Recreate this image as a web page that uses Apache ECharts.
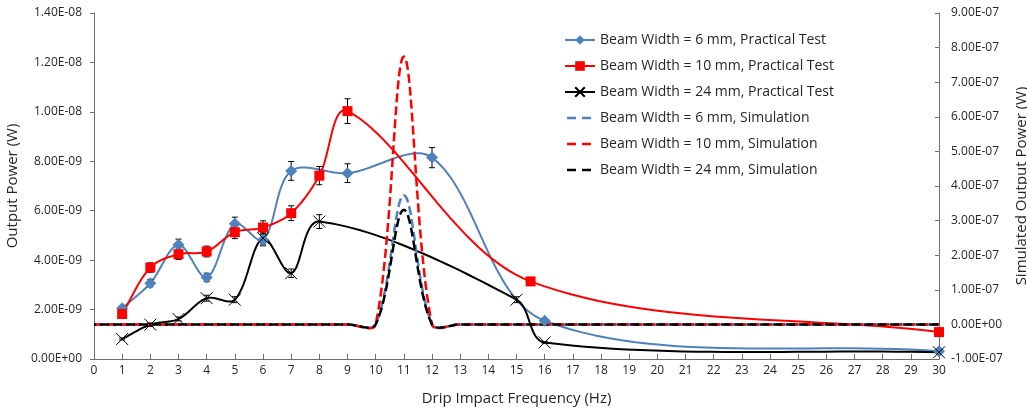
<!DOCTYPE html>
<html>
<head>
<meta charset="utf-8">
<script src="https://cdn.jsdelivr.net/npm/echarts@6/dist/echarts.min.js"></script>
<style>
html,body{margin:0;padding:0;background:#fff;}
#chart{width:1027px;height:410px;}
</style>
</head>
<body>
<div id="chart"></div>
<script>
// ---- Data (x in Hz) ----
const bw6X   = [1, 2, 3, 4, 5, 6, 7, 9, 12, 16, 30];
const bw6Y   = [2.05e-9, 3.07e-9, 4.62e-9, 3.30e-9, 5.47e-9, 4.82e-9, 7.61e-9, 7.52e-9, 8.15e-9, 1.55e-9, 0.31e-9];
const bw6Err = [0.10e-9, 0.15e-9, 0.23e-9, 0.17e-9, 0.27e-9, 0.24e-9, 0.38e-9, 0.38e-9, 0.41e-9, 0.08e-9, 0.02e-9];

const bw10X   = [1, 2, 3, 4, 5, 6, 7, 8, 9, 15.5, 30];
const bw10Y   = [1.82e-9, 3.70e-9, 4.24e-9, 4.35e-9, 5.13e-9, 5.32e-9, 5.90e-9, 7.42e-9, 10.03e-9, 3.14e-9, 1.09e-9];
const bw10Err = [0.09e-9, 0.19e-9, 0.21e-9, 0.22e-9, 0.26e-9, 0.27e-9, 0.30e-9, 0.37e-9, 0.50e-9, 0.16e-9, 0.05e-9];

const bw24X   = [1, 2, 3, 4, 5, 6, 7, 8, 15, 16, 30];
const bw24Y   = [0.81e-9, 1.39e-9, 1.62e-9, 2.46e-9, 2.40e-9, 4.89e-9, 3.47e-9, 5.56e-9, 2.40e-9, 0.67e-9, 0.27e-9];
const bw24Err = [0.04e-9, 0.07e-9, 0.08e-9, 0.12e-9, 0.12e-9, 0.24e-9, 0.17e-9, 0.28e-9, 0.12e-9, 0.03e-9, 0.01e-9];

const simX    = [0,1,2,3,4,5,6,7,8,9,10,11,12,13,14,15,16,17,18,19,20,21,22,23,24,25,26,27,28,29,30];
const sim6Y   = [0,0,0,0,0,0,0,0,0,0,0,3.73e-7,0,0,0,0,0,0,0,0,0,0,0,0,0,0,0,0,0,0,0];
const sim10Y  = [0,0,0,0,0,0,0,0,0,0,0,7.74e-7,0,0,0,0,0,0,0,0,0,0,0,0,0,0,0,0,0,0,0];
const sim24Y  = [0,0,0,0,0,0,0,0,0,0,0,3.31e-7,0,0,0,0,0,0,0,0,0,0,0,0,0,0,0,0,0,0,0];

const names = [
  'Beam Width = 6 mm, Practical Test',
  'Beam Width = 10 mm, Practical Test',
  'Beam Width = 24 mm, Practical Test',
  'Beam Width = 6 mm, Simulation',
  'Beam Width = 10 mm, Simulation',
  'Beam Width = 24 mm, Simulation'
];

const BLUE = '#4F81BD', RED = '#FF0000', BLACK = '#000000';
const FONT = 'Open Sans';
const TEXT = '#262626';
const DASH_ICON = 'path://M0,0L0,0M30,12L30,12M2,4.75H11V7.25H2ZM17,4.75H26V7.25H17Z';

function pairs(xs, ys){ return xs.map((x,i)=>[x, ys[i]]); }
function errs(xs, ys, es){ return xs.map((x,i)=>[x, ys[i], es[i]]); }
function fmt(v){
  if (Math.abs(v) < 1e-20) return '0.00E+00';
  const parts = v.toExponential(2).split('e');
  const e = parts[1];
  let d = e.slice(1);
  if (d.length < 2) d = '0' + d;
  return parts[0] + 'E' + e[0] + d;
}

// Spreadsheet-style smoothed curve through the pixel positions of the data points
function smoothPixels(pts){
  const n = pts.length;
  if (n < 2) return pts;
  const dist = (a,b)=>Math.hypot(b[0]-a[0], b[1]-a[1]);
  const out = [pts[0]];
  const N = 28;
  for (let i = 0; i < n-1; i++){
    const p0 = pts[i-1] || pts[i], p1 = pts[i], p2 = pts[i+1], p3 = pts[i+2] || pts[i+1];
    const d01 = dist(p0,p1), d12 = dist(p1,p2), d23 = dist(p2,p3);
    const f1 = (d01+d12) > 0 ? d12/(d01+d12)/3 : 0;
    const f2 = (d12+d23) > 0 ? d12/(d12+d23)/3 : 0;
    const c1 = [p1[0] + (p2[0]-p0[0])*f1, p1[1] + (p2[1]-p0[1])*f1];
    const c2 = [p2[0] - (p3[0]-p1[0])*f2, p2[1] - (p3[1]-p1[1])*f2];
    for (let s = 1; s <= N; s++){
      const t = s/N, u = 1-t;
      const a = u*u*u, b = 3*u*u*t, c = 3*u*t*t, d = t*t*t;
      out.push([a*p1[0]+b*c1[0]+c*c2[0]+d*p2[0], a*p1[1]+b*c1[1]+c*c2[1]+d*p2[1]]);
    }
  }
  return out;
}

function curveSeries(xs, ys, yAxisIndex, color, width, dash, dashOffset, z){
  const data = pairs(xs, ys);
  return {
    type: 'custom', xAxisIndex: 0, yAxisIndex: yAxisIndex, z: z, silent: true,
    data: data,
    renderItem: function(params, api){
      if (params.dataIndex !== 0) return null;
      const pts = data.map(p => api.coord(p));
      const style = {stroke: color, lineWidth: width, fill: 'none', lineJoin: 'round'};
      if (dash) { style.lineDash = dash; style.lineDashOffset = dashOffset || 0; }
      return {type: 'polyline', shape: {points: smoothPixels(pts)}, style: style};
    }
  };
}

function errSeries(xs, ys, es){
  return {
    type: 'custom', xAxisIndex: 0, yAxisIndex: 0, z: 3, silent: true,
    data: errs(xs, ys, es),
    renderItem: function(params, api){
      const x = api.value(0), y = api.value(1), e = api.value(2);
      const top = api.coord([x, y + e]);
      const bot = api.coord([x, y - e]);
      const w = 3;
      const st = {stroke: '#000', lineWidth: 1};
      return {type: 'group', children: [
        {type: 'line', shape: {x1: top[0], y1: top[1], x2: bot[0], y2: bot[1]}, style: st},
        {type: 'line', shape: {x1: top[0]-w, y1: top[1], x2: top[0]+w, y2: top[1]}, style: st},
        {type: 'line', shape: {x1: bot[0]-w, y1: bot[1], x2: bot[0]+w, y2: bot[1]}, style: st}
      ]};
    }
  };
}

const chart = echarts.init(document.getElementById('chart'));
const axisLineStyle = {color: '#6e6e6e', width: 1};
const labelStyle = {color: TEXT, fontFamily: FONT, fontSize: 12};
const simColors = [BLUE, RED, BLACK];

const legendData = names.map((n, i) => (i < 3 ? {
  name: n,
  lineStyle: {opacity: 1, width: 2},
  itemStyle: {opacity: 1}
} : {
  name: n,
  icon: DASH_ICON,
  itemStyle: {opacity: 1, color: simColors[i-3], borderWidth: 0}
}));

chart.setOption({
  animation: false,
  backgroundColor: '#fff',
  grid: {left: 94, right: 88, top: 13, bottom: 51, containLabel: false, outerBoundsMode: 'none'},
  legend: {
    orient: 'vertical',
    left: 564, top: 33, padding: 0,
    itemWidth: 30, itemHeight: 12, itemGap: 12,
    data: legendData,
    textStyle: {color: TEXT, fontFamily: FONT, fontSize: 14}
  },
  xAxis: {
    type: 'value', min: 0, max: 30, interval: 1,
    name: 'Drip Impact Frequency (Hz)', nameLocation: 'middle', nameGap: 32,
    nameTextStyle: {color: TEXT, fontFamily: FONT, fontSize: 15},
    axisLine: {show: true, lineStyle: axisLineStyle},
    axisTick: {show: true, inside: true, length: 5, lineStyle: axisLineStyle},
    axisLabel: Object.assign({margin: 6}, labelStyle),
    splitLine: {show: false}
  },
  yAxis: [{
    type: 'value', min: 0, max: 1.4e-8, interval: 2e-9,
    name: 'Output Power (W)', nameLocation: 'middle', nameGap: 68,
    nameTextStyle: {color: TEXT, fontFamily: FONT, fontSize: 15},
    axisLine: {show: true, lineStyle: axisLineStyle},
    axisTick: {show: true, inside: false, length: 4, lineStyle: axisLineStyle},
    axisLabel: Object.assign({margin: 12, formatter: fmt}, labelStyle),
    splitLine: {show: false}
  }, {
    type: 'value', min: -1e-7, max: 9e-7, interval: 1e-7,
    position: 'right',
    name: 'Simulated Output Power (W)', nameLocation: 'middle', nameGap: 66, nameRotate: 90,
    nameTextStyle: {color: TEXT, fontFamily: FONT, fontSize: 15},
    axisLine: {show: true, lineStyle: axisLineStyle},
    axisTick: {show: true, inside: true, length: 4, lineStyle: axisLineStyle},
    axisLabel: Object.assign({margin: 12, formatter: fmt}, labelStyle),
    splitLine: {show: false}
  }],
  series: [
    // smoothed curves
    curveSeries(bw6X, bw6Y, 0, BLUE, 2, null, 0, 2),
    curveSeries(bw10X, bw10Y, 0, RED, 2, null, 0, 2),
    curveSeries(bw24X, bw24Y, 0, BLACK, 2, null, 0, 2),
    curveSeries(simX, sim6Y, 1, BLUE, 2.5, [9, 4], 0, 2),
    curveSeries(simX, sim10Y, 1, RED, 2.5, [9, 4], 0, 2),
    curveSeries(simX, sim24Y, 1, BLACK, 2.5, [9, 4], 7, 2),
    // error bars
    errSeries(bw6X, bw6Y, bw6Err),
    errSeries(bw10X, bw10Y, bw10Err),
    errSeries(bw24X, bw24Y, bw24Err),
    // markers + legend entries
    {
      name: names[0], type: 'line', yAxisIndex: 0, z: 5,
      data: pairs(bw6X, bw6Y),
      symbol: 'diamond', symbolSize: 12,
      lineStyle: {color: BLUE, width: 2, opacity: 0},
      itemStyle: {color: BLUE}
    },
    {
      name: names[1], type: 'line', yAxisIndex: 0, z: 6,
      data: pairs(bw10X, bw10Y),
      symbol: 'rect', symbolSize: 10,
      lineStyle: {color: RED, width: 2, opacity: 0},
      itemStyle: {color: RED}
    },
    {
      name: names[2], type: 'line', yAxisIndex: 0, z: 7,
      data: pairs(bw24X, bw24Y),
      symbol: 'path://M0,0L10,10M10,0L0,10', symbolSize: 12,
      lineStyle: {color: BLACK, width: 2, opacity: 0},
      itemStyle: {color: BLACK, borderColor: BLACK, borderWidth: 1}
    },
    {
      name: names[3], type: 'line', yAxisIndex: 1, z: 1,
      data: pairs(simX, sim6Y), symbol: 'none',
      lineStyle: {color: BLUE, width: 2.5, opacity: 0},
      itemStyle: {color: BLUE}
    },
    {
      name: names[4], type: 'line', yAxisIndex: 1, z: 1,
      data: pairs(simX, sim10Y), symbol: 'none',
      lineStyle: {color: RED, width: 2.5, opacity: 0},
      itemStyle: {color: RED}
    },
    {
      name: names[5], type: 'line', yAxisIndex: 1, z: 1,
      data: pairs(simX, sim24Y), symbol: 'none',
      lineStyle: {color: BLACK, width: 2.5, opacity: 0},
      itemStyle: {color: BLACK}
    }
  ]
});
</script>
</body>
</html>
